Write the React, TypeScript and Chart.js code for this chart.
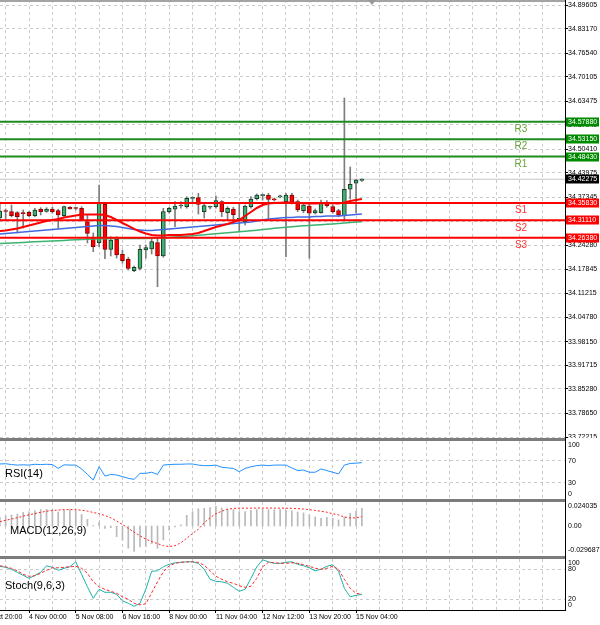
import React, { useEffect, useRef } from "react";
import { Chart, registerables } from "chart.js";

Chart.register(...registerables);

const FONT = "'Liberation Sans', Arial, Helvetica, sans-serif";
Chart.defaults.font.family = FONT;

const GRID = "#cbcbcb";
const GREEN_BODY = "#3cb371";
const RED_BODY = "#ff0000";

// bar numbering: bar 0 = 31 Oct 20:00 (H4 bars), first visible bar = 3
const firstBar = 3;
const X_MIN = 3.031;
const X_MAX = 99.778;
const timeLabels = ["31 Oct 20:00", "4 Nov 00:00", "5 Nov 08:00", "6 Nov 16:00", "8 Nov 00:00", "11 Nov 04:00", "12 Nov 12:00", "13 Nov 20:00", "15 Nov 04:00"];
const gridBars = [0, 4, 8, 12, 16, 20, 24, 28, 32, 36, 40, 44, 48, 52, 56, 60, 64, 68, 72, 76, 80, 84, 88, 92, 96];

const PRICE_MIN = 33.72215;
const PRICE_MAX = 34.9097;
const priceTicks = [34.89605, 34.8317, 34.7654, 34.70105, 34.63475, 34.5704, 34.5041, 34.43975, 34.37345, 34.3091, 34.2428, 34.17845, 34.11215, 34.0478, 33.9815, 33.91715, 33.8528, 33.7865, 33.72215];

const opens = [34.3173, 34.3377, 34.3344, 34.3317, 34.3309, 34.3328, 34.3236, 34.341, 34.3355, 34.3418, 34.3372, 34.3236, 34.3464, 34.3445, 34.3437, 34.3073, 34.2621, 34.2502, 34.3545, 34.2322, 34.2594, 34.2187, 34.2051, 34.1741, 34.1806, 34.2304, 34.2331, 34.2502, 34.2141, 34.3344, 34.341, 34.3499, 34.348, 34.3708, 34.3725, 34.3344, 34.3464, 34.348, 34.3616, 34.3317, 34.3418, 34.3138, 34.3065, 34.348, 34.3698, 34.3779, 34.379, 34.3676, 34.3749, 34.3616, 34.3798, 34.3616, 34.3372, 34.3499, 34.3309, 34.3317, 34.3589, 34.348, 34.3372, 34.3236, 34.3953, 34.4116, 34.4192];
const highs = [34.3608, 34.3418, 34.3526, 34.3344, 34.3391, 34.3355, 34.3437, 34.3453, 34.3453, 34.3464, 34.341, 34.3499, 34.348, 34.3464, 34.348, 34.3255, 34.2766, 34.407, 34.3573, 34.2665, 34.2665, 34.2304, 34.2106, 34.1869, 34.244, 34.244, 34.2621, 34.2621, 34.3437, 34.3464, 34.3616, 34.3616, 34.3752, 34.3752, 34.3844, 34.3573, 34.3499, 34.3771, 34.3643, 34.348, 34.3464, 34.3573, 34.3526, 34.3752, 34.3825, 34.3825, 34.3844, 34.3716, 34.3798, 34.3844, 34.3844, 34.3662, 34.3573, 34.3573, 34.3418, 34.3662, 34.3643, 34.3526, 34.341, 34.6434, 34.4559, 34.4224, 34.4238];
const lows = [34.3119, 34.3119, 34.32, 34.2766, 34.2901, 34.3208, 34.3208, 34.3255, 34.3328, 34.3301, 34.2893, 34.3208, 34.341, 34.3391, 34.3092, 34.2494, 34.2257, 34.2393, 34.2067, 34.2141, 34.2086, 34.1942, 34.176, 34.1714, 34.176, 34.2078, 34.2195, 34.1306, 34.2106, 34.3301, 34.2937, 34.3437, 34.3437, 34.3616, 34.3282, 34.3173, 34.3418, 34.3437, 34.3208, 34.3119, 34.3073, 34.2793, 34.2983, 34.3437, 34.3662, 34.3662, 34.3173, 34.3635, 34.3716, 34.2122, 34.3553, 34.3344, 34.3317, 34.2078, 34.3282, 34.3301, 34.3464, 34.3301, 34.3208, 34.3119, 34.3689, 34.3301, 34.4165];
const closes = [34.3363, 34.335, 34.3236, 34.3208, 34.3293, 34.3236, 34.3391, 34.3344, 34.3418, 34.3344, 34.3255, 34.348, 34.3418, 34.3431, 34.3119, 34.2757, 34.2393, 34.3573, 34.2322, 34.2575, 34.2168, 34.2013, 34.1806, 34.1833, 34.2322, 34.2366, 34.253, 34.2141, 34.3344, 34.3437, 34.3499, 34.351, 34.3708, 34.3716, 34.3545, 34.3507, 34.3472, 34.3643, 34.3344, 34.3437, 34.3263, 34.3154, 34.3499, 34.3689, 34.3798, 34.3785, 34.3681, 34.3665, 34.3763, 34.3798, 34.3589, 34.3391, 34.3526, 34.3301, 34.3377, 34.3589, 34.3499, 34.3344, 34.3255, 34.3953, 34.4089, 34.4206, 34.42275];

const maFast = [34.282, 34.2834, 34.2861, 34.2888, 34.2929, 34.297, 34.301, 34.3051, 34.3092, 34.3119, 34.3146, 34.3187, 34.3214, 34.3241, 34.3268, 34.3268, 34.3268, 34.3268, 34.3255, 34.32, 34.3119, 34.3037, 34.2956, 34.2875, 34.2807, 34.2752, 34.2711, 34.2698, 34.2698, 34.2711, 34.2711, 34.2711, 34.2725, 34.2739, 34.2766, 34.282, 34.2875, 34.2929, 34.297, 34.301, 34.3064, 34.3119, 34.3228, 34.3336, 34.3445, 34.3526, 34.3567, 34.3581, 34.3586, 34.3594, 34.3594, 34.3581, 34.3573, 34.3567, 34.3567, 34.3576, 34.3581, 34.3576, 34.3567, 34.3594, 34.3635, 34.3662, 34.3689];
const maMid = [34.2739, 34.2752, 34.2766, 34.278, 34.2793, 34.2807, 34.282, 34.2834, 34.2847, 34.2861, 34.2875, 34.2888, 34.2902, 34.2915, 34.2929, 34.2943, 34.2956, 34.297, 34.297, 34.2956, 34.2943, 34.2915, 34.2888, 34.2861, 34.2847, 34.2834, 34.2834, 34.2847, 34.2861, 34.2875, 34.2888, 34.2902, 34.2915, 34.2929, 34.2943, 34.2956, 34.297, 34.2983, 34.2997, 34.301, 34.3024, 34.3037, 34.3051, 34.3065, 34.3092, 34.3119, 34.3146, 34.316, 34.3174, 34.3187, 34.3187, 34.3201, 34.3201, 34.3201, 34.3214, 34.3214, 34.3228, 34.3228, 34.3228, 34.3241, 34.3255, 34.3268, 34.3282];
const maSlow = [34.248, 34.2488, 34.2494, 34.2502, 34.251, 34.2518, 34.2526, 34.2534, 34.2542, 34.2548, 34.2556, 34.2564, 34.2573, 34.2581, 34.2589, 34.2594, 34.2602, 34.2608, 34.2611, 34.2613, 34.2616, 34.2616, 34.2616, 34.2616, 34.2616, 34.2619, 34.2622, 34.2627, 34.2635, 34.2646, 34.2657, 34.2668, 34.2679, 34.2692, 34.2706, 34.2719, 34.2733, 34.2747, 34.276, 34.2774, 34.2787, 34.2801, 34.2815, 34.2828, 34.2842, 34.2858, 34.2875, 34.2891, 34.2907, 34.2923, 34.2937, 34.2948, 34.2959, 34.297, 34.298, 34.2991, 34.3002, 34.3012, 34.3023, 34.3037, 34.3051, 34.3064, 34.3073];

const levelNames = ["R3", "R2", "R1", "S1", "S2", "S3"];
const levelValues = [34.5788, 34.5315, 34.4843, 34.3583, 34.3111, 34.2638];
const lastPrice = 34.42275;

const rsi = [64, 64.5, 63, 62, 62.5, 62, 63.5, 63, 63.5, 63, 56, 62.5, 62, 62, 55, 45, 35, 59, 42, 45, 44, 41, 38, 36, 47, 47, 49, 45, 62, 63, 63.5, 63.5, 64, 64, 62, 61, 61, 62, 58, 57, 56, 50, 56, 59, 61, 62, 61, 62, 62, 62, 57, 52, 53, 49, 49, 55, 52, 49, 46, 62, 65, 65.5, 66.5];
const rsiTickLabels = ["100", "70", "30", "0"];
const rsiTickValues = [100, 70, 30, 0];
const rsiGrid = [30, 70];

const macdHist = [0.0105, 0.012, 0.0135, 0.0145, 0.0165, 0.0172, 0.0185, 0.02, 0.0203, 0.0195, 0.0172, 0.019, 0.02, 0.018, 0.014, 0.008, 0.0005, 0.0045, -0.003, -0.002, -0.013, -0.017, -0.027, -0.031, -0.0255, -0.025, -0.0215, -0.0272, -0.017, -0.005, -0.001, 0.0015, 0.013, 0.0175, 0.021, 0.0215, 0.0225, 0.024, 0.022, 0.0205, 0.02, 0.0175, 0.0175, 0.019, 0.02, 0.02, 0.02, 0.0198, 0.02, 0.019, 0.0185, 0.017, 0.016, 0.0135, 0.011, 0.0095, 0.0105, 0.0095, 0.0075, 0.011, 0.0155, 0.018, 0.0215];
const macdSignal = [0.0053, 0.007, 0.0085, 0.0102, 0.012, 0.0137, 0.0152, 0.0167, 0.018, 0.019, 0.0195, 0.02, 0.0201, 0.0198, 0.0193, 0.0182, 0.0165, 0.015, 0.0128, 0.01, 0.006, 0.002, -0.003, -0.0075, -0.012, -0.016, -0.019, -0.0215, -0.024, -0.0252, -0.024, -0.0205, -0.015, -0.0092, -0.004, 0.004, 0.0100, 0.015, 0.018, 0.0205, 0.0215, 0.0218, 0.0218, 0.0218, 0.0219, 0.0219, 0.0219, 0.0218, 0.0218, 0.0217, 0.0216, 0.0212, 0.0207, 0.02, 0.019, 0.018, 0.0168, 0.015, 0.0135, 0.011, 0.0098, 0.01, 0.0115];
const macdTickLabels = ["0.024035", "0.00", "-0.029687"];
const macdTickValues = [0.024035, 0, -0.029687];

const stochMain = [86, 84, 80, 74, 68, 62, 68, 74, 87, 84, 78, 82, 85, 95, 70, 45, 22, 40, 34, 34, 30, 17, 12, 6, 12, 40, 76, 77, 85, 90, 93, 94, 95, 95, 92, 80, 60, 56, 55, 52, 44, 36, 40, 62, 85, 99, 95, 92, 92, 94, 95, 90, 87, 83, 77, 80, 86, 89, 76, 42, 25, 28, 30];
const stochSignal = [87, 85, 82, 77, 70, 66, 67, 72, 78, 83, 83, 84, 85, 86, 82, 72, 55, 45, 40, 36, 32, 25, 20, 12, 9, 11, 33, 55, 75, 87, 92, 94, 95, 95, 94, 88, 77, 66, 60, 55, 52, 47, 44, 46, 62, 85, 94, 93, 92, 92, 93, 92, 89, 86, 82, 80, 82, 86, 80, 60, 42, 32, 30];
const stochTickLabels = ["100", "80", "20", "0"];
const stochTickValues = [100, 80, 20, 0];
const stochGrid = [20, 80];

const pts = (arr: number[]) => arr.map((v, i) => ({ x: firstBar + i, y: v }));

function xScale(showLabels: boolean): any {
  return {
    type: "linear",
    min: X_MIN,
    max: X_MAX,
    bounds: "data",
    offset: false,
    afterBuildTicks: (s: any) => {
      s.ticks = gridBars.map((v) => ({ value: v }));
    },
    afterFit: (s: any) => {
      s.paddingLeft = 0;
      s.paddingRight = 0;
      s.height = showLabels ? 15 : 0;
    },
    grid: {
      display: true,
      offset: false,
      color: GRID,
      lineWidth: 1,
      drawTicks: showLabels,
      tickLength: 3,
      tickWidth: 1,
      tickColor: (c: any) =>
        c.tick && c.tick.value % 8 === 0 && c.tick.value / 8 < timeLabels.length ? "#000" : "rgba(0,0,0,0)",
    },
    border: { display: showLabels, color: "#000", width: 1, dash: [3, 3] },
    ticks: {
      display: showLabels,
      autoSkip: false,
      maxRotation: 0,
      minRotation: 0,
      align: "start",
      padding: 0,
      color: "#000",
      font: { size: 7, family: FONT },
      callback: (v: any) => {
        const i = Number(v) / 8;
        return Number.isInteger(i) && i < timeLabels.length ? timeLabels[i] : "";
      },
    },
  };
}

function subY(min: number, max: number, gridVals: number[], showGrid: boolean): any {
  return {
    type: "linear",
    position: "right",
    min,
    max,
    bounds: "data",
    afterBuildTicks: (s: any) => {
      s.ticks = gridVals.map((v) => ({ value: v }));
    },
    afterFit: (s: any) => {
      s.width = 35;
      s.paddingTop = 0;
      s.paddingBottom = 0;
    },
    grid: { display: showGrid, color: GRID, drawTicks: false },
    border: { display: false, dash: [3, 3] },
    ticks: { display: false },
  };
}

function panelDecor(id: string, name: string, nameX: number, nameDy: number, labels: string[], values: number[], isBottom: boolean): any {
  return {
    id,
    beforeDraw(chart: any) {
      const { ctx, chartArea: a } = chart;
      ctx.save();
      ctx.fillStyle = "#7c7c7c";
      ctx.fillRect(0, 0, a.right, 3);
      ctx.restore();
    },
    afterDraw(chart: any) {
      const { ctx, chartArea: a } = chart;
      const y = chart.scales.y;
      ctx.save();
      ctx.fillStyle = "#000";
      ctx.fillRect(a.right, 0, 1, isBottom ? a.bottom + 1 : chart.height);
      ctx.font = `7px ${FONT}`;
      ctx.textAlign = "left";
      ctx.textBaseline = "middle";
      labels.forEach((t, i) => {
        const p = Math.min(Math.max(y.getPixelForValue(values[i]), a.top + 4.5), a.bottom - 4.5);
        ctx.fillText(t, a.right + 3, p);
      });
      ctx.font = `11px ${FONT}`;
      ctx.fillText(name, nameX, a.top + nameDy);
      ctx.restore();
    },
  };
}

const mainDecor: any = {
  id: "mainDecor",
  afterDraw(chart: any) {
    const { ctx, chartArea: a } = chart;
    const y = chart.scales.y;
    ctx.save();
    ctx.fillStyle = "#a4a4a4";
    ctx.fillRect(0, 0, a.right, 2);
    ctx.fillStyle = "#000";
    ctx.fillRect(a.right, 0, 1, chart.height);
    ctx.fillStyle = "#9a9a9a";
    ctx.beginPath();
    ctx.moveTo(368, 0);
    ctx.lineTo(376, 0);
    ctx.lineTo(372, 5);
    ctx.closePath();
    ctx.fill();
    ctx.font = `10px ${FONT}`;
    ctx.textAlign = "center";
    ctx.textBaseline = "middle";
    levelNames.forEach((n, i) => {
      const p = y.getPixelForValue(levelValues[i]);
      ctx.fillStyle = n[0] === "R" ? "#64a436" : "#ff3434";
      ctx.fillText(n, 521, p + 7.5);
    });
    ctx.font = `7px ${FONT}`;
    ctx.textAlign = "left";
    const box = (v: number, bg: string) => {
      const p = Math.round(y.getPixelForValue(v));
      ctx.fillStyle = bg;
      ctx.fillRect(a.right + 1, p - 4.5, 33, 9);
      ctx.fillStyle = "#fff";
      ctx.fillText(v.toFixed(5), a.right + 3, p + 0.5);
    };
    levelNames.forEach((n, i) => box(levelValues[i], n[0] === "R" ? "#008a00" : "#ff0000"));
    box(lastPrice, "#000");
    ctx.restore();
  },
};

const baseOpts: any = {
  responsive: false,
  maintainAspectRatio: false,
  animation: false,
  events: [],
  plugins: { legend: { display: false }, tooltip: { enabled: false }, title: { display: false } },
};

function mainConfig(): any {
  const isUp = closes.map((c, i) => c >= opens[i]);
  const levelDs = levelNames.map((n, i) => ({
    type: "line",
    data: [
      { x: X_MIN, y: levelValues[i] },
      { x: X_MAX, y: levelValues[i] },
    ],
    borderColor: n[0] === "R" ? "#1e8c1e" : "#ff0000",
    borderWidth: 2,
    pointRadius: 0,
    order: 0,
  }));
  return {
    type: "bar",
    data: {
      datasets: [
        ...levelDs,
        { type: "line", data: pts(maFast), borderColor: "#ff0000", borderWidth: 2, pointRadius: 0, order: 1 },
        { type: "line", data: pts(maMid), borderColor: "#4169e1", borderWidth: 1.5, pointRadius: 0, order: 1 },
        { type: "line", data: pts(maSlow), borderColor: "#3cb371", borderWidth: 1.5, pointRadius: 0, order: 1 },
        {
          type: "bar",
          data: opens.map((o, i) => ({ x: firstBar + i, y: [o, closes[i]] })),
          backgroundColor: isUp.map((u) => (u ? GREEN_BODY : RED_BODY)),
          borderColor: isUp.map((u) => (u ? "#1d3a28" : "#8c0000")),
          borderWidth: 1,
          borderSkipped: false,
          barThickness: 4,
          minBarLength: 1,
          grouped: false,
          order: 2,
        },
        {
          type: "bar",
          data: lows.map((l, i) => ({ x: firstBar + i, y: [l, highs[i]] })),
          backgroundColor: "#7d7d7d",
          barThickness: 1,
          grouped: false,
          order: 3,
        },
        {
          type: "line",
          data: [
            { x: X_MIN, y: lastPrice },
            { x: X_MAX, y: lastPrice },
          ],
          borderColor: "#c4c4c4",
          borderWidth: 1,
          pointRadius: 0,
          order: 4,
        },
      ],
    },
    options: {
      ...baseOpts,
      layout: { padding: { top: 0, left: 0, right: 0, bottom: 1 } },
      scales: {
        x: xScale(false),
        y: {
          type: "linear",
          position: "right",
          min: PRICE_MIN,
          max: PRICE_MAX,
          bounds: "data",
          afterBuildTicks: (s: any) => {
            s.ticks = priceTicks.map((v) => ({ value: v }));
          },
          afterFit: (s: any) => {
            s.width = 35;
            s.paddingTop = 0;
            s.paddingBottom = 0;
          },
          grid: { color: GRID, drawTicks: true, tickLength: 3, tickColor: "#000" },
          border: { display: false, dash: [3, 3] },
          ticks: {
            autoSkip: false,
            padding: 0,
            color: "#000",
            font: { size: 7, family: FONT },
            callback: (v: any) => Number(v).toFixed(5),
          },
        },
      },
    },
    plugins: [mainDecor],
  };
}

function rsiConfig(): any {
  return {
    type: "line",
    data: {
      datasets: [{ data: pts(rsi), borderColor: "#1e90ff", borderWidth: 1, pointRadius: 0 }],
    },
    options: {
      ...baseOpts,
      layout: { padding: { top: 3, left: 0, right: 0, bottom: 0 } },
      scales: { x: xScale(false), y: subY(0.35, 105.8, rsiGrid, true) },
    },
    plugins: [panelDecor("rsiDecor", "RSI(14)", 5, 32.5, rsiTickLabels, rsiTickValues, false)],
  };
}

function macdConfig(): any {
  return {
    type: "bar",
    data: {
      datasets: [
        {
          type: "line",
          data: pts(macdSignal),
          borderColor: "#ff2020",
          borderWidth: 1,
          borderDash: [2, 2],
          pointRadius: 0,
          order: 0,
        },
        {
          type: "bar",
          data: pts(macdHist),
          backgroundColor: "#b9b9b9",
          barThickness: 1,
          grouped: false,
          order: 1,
        },
      ],
    },
    options: {
      ...baseOpts,
      layout: { padding: { top: 3, left: 0, right: 0, bottom: 0 } },
      scales: { x: xScale(false), y: subY(-0.03663, 0.0293, [0], false) },
    },
    plugins: [panelDecor("macdDecor", "MACD(12,26,9)", 10, 28.5, macdTickLabels, macdTickValues, false)],
  };
}

function stochConfig(): any {
  return {
    type: "line",
    data: {
      datasets: [
        {
          data: pts(stochSignal),
          borderColor: "#ff2a2a",
          borderWidth: 1,
          borderDash: [3, 2],
          pointRadius: 0,
        },
        { data: pts(stochMain), borderColor: "#20b2aa", borderWidth: 1, pointRadius: 0 },
      ],
    },
    options: {
      ...baseOpts,
      layout: { padding: { top: 3, left: 0, right: 0, bottom: 0 } },
      scales: { x: xScale(true), y: subY(-1.4, 100.6, stochGrid, true) },
    },
    plugins: [panelDecor("stochDecor", "Stoch(9,6,3)", 5, 27, stochTickLabels, stochTickValues, true)],
  };
}

export default function App() {
  const mainRef = useRef<HTMLCanvasElement>(null);
  const rsiRef = useRef<HTMLCanvasElement>(null);
  const macdRef = useRef<HTMLCanvasElement>(null);
  const stochRef = useRef<HTMLCanvasElement>(null);

  useEffect(() => {
    const charts: Chart[] = [];
    if (mainRef.current) charts.push(new Chart(mainRef.current, mainConfig()));
    if (rsiRef.current) charts.push(new Chart(rsiRef.current, rsiConfig()));
    if (macdRef.current) charts.push(new Chart(macdRef.current, macdConfig()));
    if (stochRef.current) charts.push(new Chart(stochRef.current, stochConfig()));
    return () => charts.forEach((c) => c.destroy());
  }, []);

  const cs = (top: number, h: number): React.CSSProperties => ({
    position: "absolute",
    left: 0,
    top,
    width: 600,
    height: h,
    display: "block",
  });

  return (
    <div style={{ position: "absolute", left: 0, top: 0, width: 600, height: 625, background: "#fff", overflow: "hidden" }}>
      <canvas ref={mainRef} width={600} height={438} style={cs(0, 438)} />
      <canvas ref={rsiRef} width={600} height={61} style={cs(438, 61)} />
      <canvas ref={macdRef} width={600} height={57} style={cs(499, 57)} />
      <canvas ref={stochRef} width={600} height={69} style={cs(556, 69)} />
    </div>
  );
}
